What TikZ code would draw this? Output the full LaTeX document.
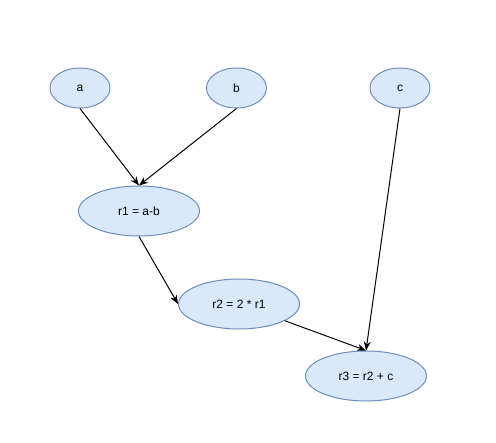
\documentclass[tikz,border=0pt]{standalone}
\usepackage{fontspec}
\setmainfont{Liberation Sans}
\usetikzlibrary{arrows.meta,shapes.geometric}
\definecolor{NodeFill}{HTML}{DAE8FC}
\definecolor{NodeLine}{HTML}{6C8EBF}

\begin{document}
\begin{tikzpicture}[x=1pt,y=-1pt,line width=1pt,>={Stealth[length=9pt,width=7pt]},
  var/.style={draw=NodeLine,fill=NodeFill,ellipse,minimum width=60pt,minimum height=40pt,inner sep=0pt,font=\fontsize{12}{14}\selectfont},
  calc/.style={var,minimum width=121pt,minimum height=50pt}]
\useasboundingbox (0,0) rectangle (496,443);
\node[var] (a) at (80,88) {a};
\node[var] (b) at (236.5,88) {b};
\node[var] (c) at (400,88) {c};
\node[calc] (r1) at (139,211) {r1 = a-b};
\node[calc] (r2) at (239,304) {r2 = 2 * r1};
\node[calc] (r3) at (366,376) {r3 = r2 + c};
\draw[->] (a.south) -- (r1.north);
\draw[->] (b.south) -- (r1.north);
\draw[->] (r1.south) -- (r2.west);
\draw[->] (r2) -- (r3.north);
\draw[->] (c.south) -- (r3.north);
\end{tikzpicture}
\end{document}
